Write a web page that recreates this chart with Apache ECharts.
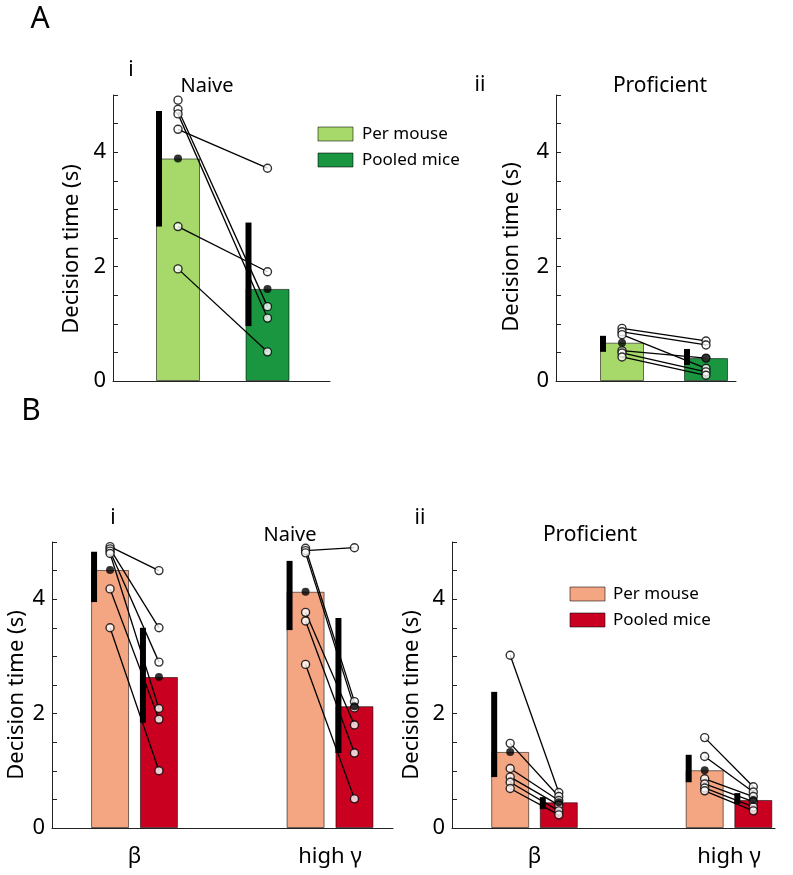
<!DOCTYPE html>
<html><head><meta charset="utf-8">
<script src="https://cdn.jsdelivr.net/npm/echarts@6/dist/echarts.min.js"></script>
<style>html,body{margin:0;padding:0;background:#fff}#c{width:793px;height:875px}</style>
</head><body><div id="c"></div>
<script>
// ---------------- DATA ----------------
const yTickLabels = ['0', '2', '4'];
const barLegend = ['Per mouse', 'Pooled mice'];
const groupsB = ['β', 'high γ'];

// Panel A (i: Naive, ii: Proficient) — [per mouse, pooled mice]
const aNaiveBars = [3.89, 1.61];
const aNaiveErr = [[2.70, 4.72], [0.96, 2.77]];
const aNaiveMicePer = [4.91, 4.75, 4.67, 4.40, 2.70, 1.96];
const aNaiveMicePooled = [null, 1.30, 1.10, 3.72, 1.91, 0.51];

const aProfBars = [0.67, 0.40];
const aProfErr = [[0.51, 0.79], [0.28, 0.56]];
const aProfMicePer = [0.92, 0.86, 0.81, 0.53, 0.49, 0.42];
const aProfMicePooled = [0.70, 0.63, 0.22, 0.40, 0.16, 0.10];

// Panel B naive: beta, high gamma
const bNaiveBetaBars = [4.51, 2.64];
const bNaiveBetaErr = [[3.95, 4.83], [1.84, 3.50]];
const bNaiveBetaMicePer = [4.92, 4.88, 4.84, 4.80, 4.18, 3.50];
const bNaiveBetaMicePooled = [4.50, 3.50, 2.90, 2.09, 1.90, 1.00];

const bNaiveGammaBars = [4.13, 2.13];
const bNaiveGammaErr = [[3.46, 4.67], [1.31, 3.67]];
const bNaiveGammaMicePer = [4.89, 4.85, 4.81, 3.77, 3.62, 2.86];
const bNaiveGammaMicePooled = [2.21, 4.90, 2.10, 1.80, 1.31, 0.51];

// Panel B proficient: beta, high gamma
const bProfBetaBars = [1.33, 0.45];
const bProfBetaErr = [[0.89, 2.38], [0.33, 0.54]];
const bProfBetaMicePer = [3.02, 1.48, 1.04, 0.89, 0.80, 0.69];
const bProfBetaMicePooled = [0.62, 0.55, 0.48, 0.40, 0.30, 0.23];

const bProfGammaBars = [1.01, 0.49];
const bProfGammaErr = [[0.80, 1.28], [0.42, 0.61]];
const bProfGammaMicePer = [1.58, 1.25, 0.86, 0.77, 0.70, 0.65];
const bProfGammaMicePooled = [0.72, 0.63, 0.55, 0.46, 0.37, 0.30];

// ---------------- LAYOUT / STYLE ----------------
const FONT = 'Noto Sans';
const greens = ['#a6d96a', '#1a9641'];
const reds = ['#f4a582', '#ca0020'];

// px layout of each panel: axis left, top, width, height, px of x=0, px per unit
const panels = [
  {left: 113, top: 95, width: 217, height: 286, px0: 43.75, unit: 179, barW: 44, colors: greens,
   groups: [{bars: aNaiveBars, err: aNaiveErr, per: aNaiveMicePer, pooled: aNaiveMicePooled}]},
  {left: 556, top: 95, width: 180, height: 286, px0: 496, unit: 168, barW: 44, colors: greens,
   groups: [{bars: aProfBars, err: aProfErr, per: aProfMicePer, pooled: aProfMicePooled}]},
  {left: 52, top: 542, width: 341, height: 286, px0: 36.75, unit: 97.75, barW: 38, colors: reds, labels: groupsB,
   groups: [{bars: bNaiveBetaBars, err: bNaiveBetaErr, per: bNaiveBetaMicePer, pooled: bNaiveBetaMicePooled},
            {bars: bNaiveGammaBars, err: bNaiveGammaErr, per: bNaiveGammaMicePer, pooled: bNaiveGammaMicePooled}]},
  {left: 452, top: 542, width: 323, height: 286, px0: 437.25, unit: 97.25, barW: 38, colors: reds, labels: groupsB,
   groups: [{bars: bProfBetaBars, err: bProfBetaErr, per: bProfBetaMicePer, pooled: bProfBetaMicePooled},
            {bars: bProfGammaBars, err: bProfGammaErr, per: bProfGammaMicePer, pooled: bProfGammaMicePooled}]}
];

const grid = [], xAxis = [], yAxis = [], series = [];
panels.forEach((p, idx) => {
  grid.push({left: p.left, top: p.top, width: p.width, height: p.height, containLabel: false});
  const min = (p.left - p.px0) / p.unit;
  const max = min + p.width / p.unit;
  xAxis.push({type: 'value', gridIndex: idx, min: min, max: max,
    axisLine: {show: true, onZero: false, lineStyle: {color: '#222', width: 1}},
    axisTick: {show: false}, axisLabel: {show: false}, splitLine: {show: false}});
  yAxis.push({type: 'value', gridIndex: idx, min: 0, max: 5, interval: 0.5,
    axisLine: {show: true, onZero: false, lineStyle: {color: '#222', width: 1}},
    axisTick: {show: true, inside: true, length: 5, lineStyle: {color: '#222'}},
    axisLabel: {formatter: v => yTickLabels.includes(String(v)) ? String(v) : '', fontSize: 22,
      color: '#000', margin: 7, fontFamily: FONT, showMinLabel: true, showMaxLabel: true},
    splitLine: {show: false}});

  const barData = [], errData = [], openData = [], fillData = [];
  p.groups.forEach((g, gi) => {
    const c = 1 + 2 * gi;
    const xs = [c - 0.25, c + 0.25];
    xs.forEach((x, k) => {
      barData.push({value: [x, g.bars[k]], itemStyle: {color: p.colors[k]}});
      errData.push([x, g.err[k][0], g.err[k][1]]);
      fillData.push([x, g.bars[k]]);
    });
    g.per.forEach((v, m) => {
      const w = g.pooled[m];
      if (v != null && w != null) {
        series.push({type: 'line', xAxisIndex: idx, yAxisIndex: idx, data: [[xs[0], v], [xs[1], w]],
          symbol: 'none', silent: true, z: 3, lineStyle: {color: '#000', width: 1.3}});
      }
      if (v != null) openData.push([xs[0], v]);
      if (w != null) openData.push([xs[1], w]);
    });
  });
  series.push({type: 'bar', xAxisIndex: idx, yAxisIndex: idx, data: barData, barWidth: p.barW, z: 1,
    silent: true, itemStyle: {borderColor: 'rgba(0,0,0,0.55)', borderWidth: 1}});
  const bw = p.barW;
  series.push({type: 'custom', xAxisIndex: idx, yAxisIndex: idx, data: errData, z: 4, silent: true,
    encode: {x: 0, y: [1, 2]},
    renderItem: (params, api) => {
      const x = api.value(0);
      const top = api.coord([x, api.value(2)]);
      const bot = api.coord([x, api.value(1)]);
      return {type: 'rect', shape: {x: top[0] - bw / 2, y: top[1], width: 6, height: bot[1] - top[1]},
        style: {fill: '#000'}};
    }});
  series.push({type: 'scatter', xAxisIndex: idx, yAxisIndex: idx, data: openData, symbolSize: 8, z: 5, silent: true,
    itemStyle: {color: '#fff', borderColor: '#000', borderWidth: 1.4}});
  series.push({type: 'scatter', xAxisIndex: idx, yAxisIndex: idx, data: fillData, symbolSize: 8, z: 6, silent: true,
    itemStyle: {color: '#000'}});
});

const txt = (text, x, y, size, extra) => Object.assign({type: 'text', x: x, y: y, z: 10,
  style: {text: text, fontSize: size, fontFamily: FONT, fill: '#000', align: 'center', verticalAlign: 'middle'}}, extra || {});
const vtxt = (text, x, y) => ({type: 'text', x: x, y: y, rotation: Math.PI / 2, z: 10,
  style: {text: text, fontSize: 22, fontFamily: FONT, fill: '#000', align: 'center', verticalAlign: 'middle'}});

const graphic = [
  txt('A', 40, 19, 30), txt('B', 31, 411, 30),
  txt('i', 131, 70, 21), txt('Naive', 207, 86, 20),
  txt('ii', 480, 85, 21), txt('Proficient', 660, 86, 21),
  txt('i', 113, 518, 21), txt('Naive', 290, 535, 20),
  txt('ii', 420, 518, 21), txt('Proficient', 590, 535, 21),
  vtxt('Decision time (s)', 72, 249), vtxt('Decision time (s)', 512, 247),
  vtxt('Decision time (s)', 17, 695), vtxt('Decision time (s)', 412, 695)
];
// legends
const legendBox = (x, y, color) => ({type: 'rect', shape: {x: x, y: y, width: 35, height: 14}, z: 10,
  style: {fill: color, stroke: 'rgba(0,0,0,0.55)', lineWidth: 1}});
const legendTxt = (t, x, y) => ({type: 'text', x: x, y: y, z: 10,
  style: {text: t, fontSize: 17, fontFamily: FONT, fill: '#000', align: 'left', verticalAlign: 'middle'}});
graphic.push(legendBox(318, 127, greens[0]), legendBox(318, 153, greens[1]),
  legendTxt(barLegend[0], 362, 134), legendTxt(barLegend[1], 362, 160));
graphic.push(legendBox(570, 587, reds[0]), legendBox(570, 613, reds[1]),
  legendTxt(barLegend[0], 613, 594), legendTxt(barLegend[1], 613, 620));

const chart = echarts.init(document.getElementById('c'), null, {renderer: 'canvas'});
chart.setOption({animation: false, backgroundColor: '#fff', grid, xAxis, yAxis, series, graphic});

// category labels under B panels, positioned through the x scales
[2, 3].forEach(idx => {
  panels[idx].labels.forEach((lab, gi) => {
    const px = chart.convertToPixel({xAxisIndex: idx}, 1 + 2 * gi);
    graphic.push(txt(lab, px, 857, 22));
  });
});
chart.setOption({graphic});
</script></body></html>
